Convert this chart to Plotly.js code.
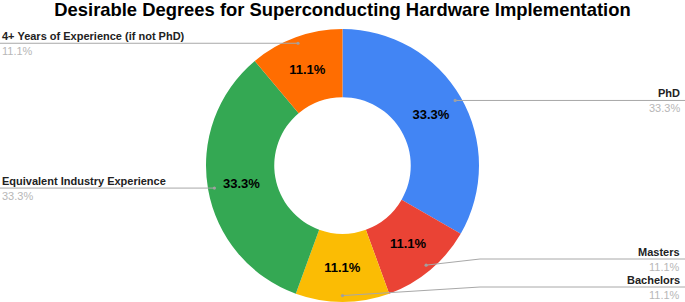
<!DOCTYPE html>
<html>
<head>
<meta charset="utf-8">
<script src="https://cdn.plot.ly/plotly-3.0.1.min.js"></script>
<style>html,body{margin:0;padding:0;background:#fff;}#chart{width:685px;height:302px;}</style>
</head>
<body>
<div id="chart"></div>
<script>
const labels = ['PhD', 'Masters', 'Bachelors', 'Equivalent Industry Experience', '4+ Years of Experience (if not PhD)'];
const values = [3, 1, 1, 3, 1];
const colors = ['#4285F4', '#EA4335', '#FBBC04', '#34A853', '#FF6D01'];
const titleText = 'Desirable Degrees for Superconducting Hardware Implementation';

const W = 685, H = 302;
const domY = [0, 273 / H];
const R = Math.min(W, H * (domY[1] - domY[0])) / 2;
const cx = W / 2;
const cy = H * (1 - (domY[0] + domY[1]) / 2);
const total = values.reduce((a, b) => a + b, 0);
const FONT = 'Liberation Sans, Arial, sans-serif';

const px = x => x / W;
const py = y => 1 - y / H;

// label geometry derived from the slice angles
let cum = 0;
const items = values.map((v, i) => {
  const th = 2 * Math.PI * (cum + v / 2) / total;
  cum += v;
  const rd = 0.953 * R;
  const x = cx + rd * Math.sin(th), y = cy - rd * Math.cos(th);
  return {i, x, y, right: x >= cx - 0.5};
});
function place(list) {
  list.sort((a, b) => b.y - a.y);
  let prev = H - 15 + 28;
  list.forEach(it => { it.ly = Math.min(it.y, prev - 28); prev = it.ly; });
}
place(items.filter(it => it.right));
place(items.filter(it => !it.right));

const shapes = [], annotations = [];
const lineStyle = {color: '#a8a8a8', width: 1};
items.forEach(it => {
  const bendX = it.right ? Math.max(it.x, cx + R + 1) : Math.min(it.x, cx - R - 1);
  const endX = it.right ? W : 0;
  shapes.push({type: 'line', xref: 'paper', yref: 'paper', x0: px(it.x), y0: py(it.y), x1: px(bendX), y1: py(it.ly), line: lineStyle, layer: 'above'});
  shapes.push({type: 'line', xref: 'paper', yref: 'paper', x0: px(bendX), y0: py(it.ly), x1: px(endX), y1: py(it.ly), line: lineStyle, layer: 'above'});
  shapes.push({type: 'circle', xref: 'paper', yref: 'paper', x0: px(it.x - 1.6), x1: px(it.x + 1.6), y0: py(it.y - 1.6), y1: py(it.y + 1.6), fillcolor: '#a0a0a0', line: {width: 0}, layer: 'above'});
  const tx = it.right ? px(W - 3) : px(0);
  const xa = it.right ? 'right' : 'left';
  annotations.push({xref: 'paper', yref: 'paper', x: tx, y: py(it.ly - 7.5), xanchor: xa, yanchor: 'middle', showarrow: false,
    text: labels[it.i], font: {family: FONT, size: 11, color: '#222222', weight: 'bold'}});
  annotations.push({xref: 'paper', yref: 'paper', x: tx, y: py(it.ly + 8), xanchor: xa, yanchor: 'middle', showarrow: false,
    text: (100 * values[it.i] / total).toFixed(1) + '%', font: {family: FONT, size: 11, color: '#b7b7b7'}});
});

const data = [{
  type: 'pie',
  labels: labels,
  values: values,
  sort: false,
  direction: 'clockwise',
  rotation: 0,
  hole: 0.5,
  marker: {colors: colors, line: {width: 0}},
  textinfo: 'percent',
  texttemplate: '%{percent:.1%}',
  textposition: 'inside',
  insidetextorientation: 'horizontal',
  textfont: {family: FONT, size: 13, color: '#000000', weight: 'bold'},
  domain: {x: [0, 1], y: domY},
  hoverinfo: 'none',
  showlegend: false
}];

const layout = {
  width: W, height: H,
  margin: {l: 0, r: 0, t: 0, b: 0},
  paper_bgcolor: '#ffffff',
  showlegend: false,
  title: {text: titleText, x: 0.5, xanchor: 'center', y: 1 - 10 / H, yanchor: 'middle', yref: 'container',
    font: {family: FONT, size: 18.4, color: '#000000', weight: 'bold'}},
  shapes: shapes,
  annotations: annotations
};

Plotly.newPlot('chart', data, layout, {displayModeBar: false, staticPlot: true});
</script>
</body>
</html>
